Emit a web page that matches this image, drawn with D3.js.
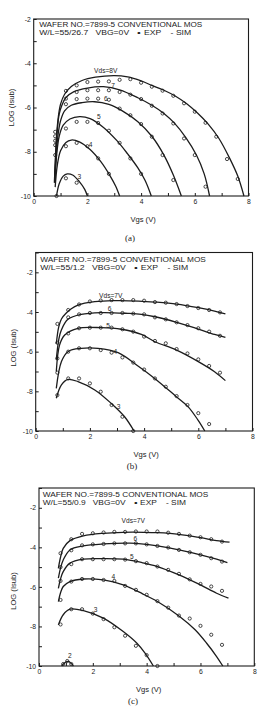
<!DOCTYPE html>
<html>
<head>
<meta charset="utf-8">
<script src="https://cdn.jsdelivr.net/npm/d3@7"></script>
<style>
  body { margin: 0; background: #fff; }
  svg { display: block; opacity: 0.995; }
</style>
</head>
<body>
<script>
// ---- data: [Vgs, log Isub] ----
const xTicks = [0, 2, 4, 6, 8];

// (a) W/L = 55/26.7
const vdsA = [8, 7, 6, 5, 4, 3];
const simA = [
  [[0.77,-9.4],[0.8,-8.5],[0.85,-7.3],[0.92,-6.4],[1.0,-5.85],[1.15,-5.4],[1.4,-5.05],[1.8,-4.78],[2.3,-4.63],[3.0,-4.56],[3.5,-4.62],[4.0,-4.8],[4.4,-5.0],[4.85,-5.22],[5.3,-5.5],[5.7,-5.83],[6.1,-6.25],[6.5,-6.75],[6.9,-7.4],[7.3,-8.3],[7.6,-9.1],[7.83,-10]],
  [[0.78,-9.3],[0.82,-8.2],[0.88,-7.0],[0.95,-6.3],[1.05,-5.9],[1.2,-5.55],[1.5,-5.28],[2.0,-5.12],[2.6,-5.06],[3.2,-5.2],[3.88,-5.56],[4.4,-5.9],[4.85,-6.27],[5.25,-6.72],[5.66,-7.35],[6.06,-8.15],[6.35,-9.0],[6.55,-10]],
  [[0.78,-9.3],[0.83,-8.3],[0.9,-7.3],[1.0,-6.6],[1.15,-6.15],[1.4,-5.9],[1.8,-5.78],[2.27,-5.74],[2.8,-5.86],[3.3,-6.15],[3.88,-6.64],[4.4,-7.3],[4.85,-8.15],[5.2,-9.05],[5.5,-10]],
  [[0.79,-9.4],[0.85,-8.2],[0.95,-7.3],[1.1,-6.8],[1.35,-6.52],[1.71,-6.41],[2.1,-6.5],[2.6,-6.9],[3.1,-7.5],[3.5,-8.1],[3.88,-8.73],[4.15,-9.3],[4.38,-10]],
  [[0.8,-9.6],[0.88,-8.6],[1.0,-7.95],[1.2,-7.58],[1.4,-7.47],[1.7,-7.55],[2.1,-7.9],[2.5,-8.45],[2.85,-9.1],[3.05,-9.55],[3.2,-10]],
  [[0.85,-10],[0.95,-9.45],[1.1,-9.1],[1.25,-9.0],[1.45,-9.05],[1.7,-9.35],[1.9,-9.7],[2.0,-10]]
];
const expA = [
  [[0.8,-7.1],[1.2,-5.25],[1.6,-5.0],[2.0,-4.85],[2.4,-4.83],[2.8,-4.82],[3.2,-4.75],[3.6,-4.72],[4.0,-4.88],[4.4,-5.06],[4.8,-5.24],[5.2,-5.47],[5.6,-5.81],[6.0,-6.19],[6.4,-6.69],[6.8,-7.32],[7.2,-8.33],[7.6,-9.23]],
  [[0.8,-7.3],[1.2,-5.6],[1.6,-5.3],[2.0,-5.22],[2.4,-5.22],[2.8,-5.22],[3.2,-5.3],[3.6,-5.42],[4.0,-5.62],[4.4,-5.92],[4.8,-6.27],[5.2,-6.72],[5.6,-7.4],[6.0,-8.15],[6.4,-9.58]],
  [[0.8,-7.5],[1.2,-5.85],[1.6,-5.62],[2.0,-5.6],[2.4,-5.6],[2.8,-5.65],[3.2,-6.05],[3.6,-6.35],[4.0,-6.75],[4.4,-7.32],[4.8,-8.15],[5.2,-9.28]],
  [[0.8,-7.7],[1.2,-6.95],[1.6,-6.65],[2.0,-6.65],[2.4,-6.7],[2.8,-7.05],[3.2,-7.6],[3.6,-8.3],[4.0,-9.0]],
  [[0.8,-8.15],[1.2,-7.75],[1.6,-7.6],[2.0,-7.75],[2.4,-8.3],[2.8,-9.0]],
  [[0.85,-10],[1.2,-9.2],[1.6,-9.4]]
];

// (b) W/L = 55/1.2
const vdsB = [7, 6, 5, 4, 3];
const simB = [
  [[0.76,-5.6],[0.85,-4.75],[0.95,-4.35],[1.13,-4.05],[1.3,-3.85],[1.56,-3.65],[2.18,-3.48],[2.9,-3.43],[3.8,-3.45],[4.4,-3.5],[5.2,-3.6],[6.0,-3.78],[6.6,-3.95],[7.0,-4.1]],
  [[0.76,-6.4],[0.85,-5.4],[0.95,-4.9],[1.19,-4.37],[1.68,-4.12],[2.42,-4.03],[3.4,-4.07],[3.9,-4.12],[4.4,-4.24],[5.2,-4.52],[6.0,-4.86],[6.6,-5.13],[7.0,-5.28]],
  [[0.76,-7.0],[0.88,-5.67],[1.07,-5.16],[1.56,-4.82],[2.42,-4.79],[3.16,-4.87],[3.9,-5.13],[4.4,-5.5],[5.2,-5.92],[6.0,-6.5],[6.6,-7.01],[7.0,-7.46]],
  [[0.76,-7.85],[0.95,-6.5],[1.19,-6.0],[1.68,-5.83],[2.3,-5.83],[3.04,-6.05],[3.8,-6.75],[4.39,-7.35],[5.19,-8.27],[5.62,-8.77],[5.99,-9.45],[6.24,-10]],
  [[0.76,-8.35],[0.95,-7.68],[1.19,-7.4],[1.56,-7.51],[2.18,-7.93],[2.79,-8.61],[3.28,-9.28],[3.63,-10]]
];
const expB = [
  [[0.8,-4.6],[1.2,-3.9],[1.6,-3.62],[2.0,-3.47],[2.4,-3.42],[2.8,-3.4],[3.2,-3.4],[3.6,-3.4],[4.0,-3.43],[4.4,-3.5],[4.8,-3.53],[5.2,-3.6],[5.6,-3.7],[6.0,-3.8],[6.4,-3.9],[6.8,-4.02]],
  [[0.8,-5.55],[1.2,-4.27],[1.6,-4.12],[2.0,-4.05],[2.4,-4.05],[2.8,-4.05],[3.2,-4.05],[3.6,-4.08],[4.0,-4.12],[4.4,-4.27],[4.8,-4.37],[5.2,-4.52],[5.6,-4.66],[6.0,-4.82],[6.4,-4.99],[6.8,-5.2]],
  [[0.8,-6.34],[1.2,-5.08],[1.6,-4.82],[2.0,-4.79],[2.4,-4.79],[2.8,-4.79],[3.2,-4.87],[3.6,-4.99],[4.0,-5.24],[4.4,-5.46],[4.8,-5.58],[5.2,-5.87],[5.6,-6.09],[6.0,-6.39],[6.4,-6.72],[6.8,-7.06]],
  [[0.8,-7.06],[1.2,-6.0],[1.6,-5.83],[2.0,-5.83],[2.4,-5.92],[2.8,-6.05],[3.2,-6.29],[3.6,-6.55],[4.0,-6.9],[4.4,-7.35],[4.8,-7.77],[5.2,-8.24],[5.6,-8.69],[6.0,-9.1],[6.4,-9.65]],
  [[0.8,-8.19],[1.2,-7.35],[1.6,-7.35],[2.0,-7.6],[2.4,-8.02],[2.8,-8.69],[3.2,-9.28],[3.6,-10]]
];

// (c) W/L = 55/0.9
const vdsC = [7, 6, 5, 4, 3, 2];
const simC = [
  [[0.72,-5.06],[0.8,-4.5],[0.9,-4.05],[1.15,-3.66],[1.65,-3.42],[2.39,-3.29],[3.13,-3.24],[3.9,-3.24],[4.4,-3.26],[5.2,-3.34],[6.0,-3.51],[6.6,-3.66],[7.08,-3.74]],
  [[0.72,-5.56],[0.8,-5.05],[0.9,-4.64],[1.15,-4.13],[1.65,-3.93],[2.39,-3.83],[3.38,-3.79],[3.9,-3.84],[4.4,-3.93],[5.2,-4.13],[6.0,-4.38],[6.6,-4.6],[7.0,-4.77]],
  [[0.72,-6.07],[0.8,-5.6],[0.9,-5.23],[1.15,-4.8],[1.65,-4.6],[2.39,-4.57],[3.13,-4.6],[3.85,-4.78],[4.4,-4.97],[5.2,-5.39],[6.0,-5.9],[6.6,-6.32],[7.04,-6.57]],
  [[0.72,-6.74],[0.8,-6.3],[0.9,-5.98],[1.15,-5.73],[1.65,-5.6],[2.39,-5.65],[3.13,-5.9],[3.85,-6.35],[4.4,-6.74],[5.2,-7.47],[5.8,-8.17],[6.23,-8.85],[6.6,-9.52],[6.83,-10]],
  [[0.72,-7.92],[0.9,-7.41],[1.15,-7.13],[1.65,-7.2],[2.39,-7.58],[3.13,-8.26],[3.63,-8.84],[3.94,-9.35],[4.25,-10]],
  [[0.84,-10],[0.97,-9.82],[1.09,-9.77],[1.21,-9.89],[1.28,-10]]
];
const expC = [
  [[0.8,-4.3],[1.2,-3.59],[1.6,-3.32],[2.0,-3.29],[2.4,-3.25],[2.8,-3.22],[3.2,-3.22],[3.6,-3.2],[4.0,-3.2],[4.4,-3.2],[4.8,-3.26],[5.2,-3.32],[5.6,-3.41],[6.0,-3.49],[6.4,-3.59],[6.8,-3.71]],
  [[0.8,-5.0],[1.2,-4.15],[1.6,-3.9],[2.0,-3.85],[2.4,-3.83],[2.8,-3.8],[3.2,-3.8],[3.6,-3.8],[4.0,-3.85],[4.4,-3.93],[4.8,-4.01],[5.2,-4.13],[5.6,-4.25],[6.0,-4.38],[6.4,-4.55],[6.8,-4.72]],
  [[0.8,-5.7],[1.2,-4.85],[1.6,-4.6],[2.0,-4.6],[2.4,-4.6],[2.8,-4.6],[3.2,-4.62],[3.6,-4.7],[4.0,-4.8],[4.4,-4.97],[4.8,-5.14],[5.2,-5.34],[5.6,-5.62],[6.0,-5.85],[6.4,-5.98],[6.8,-6.2]],
  [[0.8,-6.66],[1.2,-5.73],[1.6,-5.6],[2.0,-5.6],[2.4,-5.65],[2.8,-5.7],[3.2,-5.95],[3.6,-6.15],[4.0,-6.4],[4.4,-6.72],[4.8,-7.05],[5.2,-7.45],[5.6,-7.6],[6.0,-7.97],[6.4,-8.42],[6.8,-8.93]],
  [[0.8,-7.9],[1.2,-7.13],[1.6,-7.13],[2.0,-7.35],[2.4,-7.63],[2.8,-8.04],[3.2,-8.47],[3.6,-8.98],[4.0,-9.45],[4.4,-10]],
  [[0.9,-9.9],[1.05,-9.75],[1.2,-9.9]]
];

const W = 259, H = 712;
const ink = "#1c1c1c";
const sans = "'Liberation Sans', Arial, sans-serif";

const svg = d3.select("body").append("svg")
    .attr("width", W)
    .attr("height", H)
    .attr("font-family", sans)
    .attr("fill", ink);

function panel(o) {
  const x = d3.scaleLinear().domain([0, 8]).range([o.left, o.right]);
  const y = d3.scaleLinear().domain([-10, o.yMax]).range([o.bottom, o.top]);
  const g = svg.append("g");

  // frame
  g.append("rect")
      .attr("x", o.left).attr("y", o.top)
      .attr("width", o.right - o.left).attr("height", o.bottom - o.top)
      .attr("fill", "none").attr("stroke", ink).attr("stroke-width", 1.1);

  const xAxis = g.append("g")
      .attr("transform", `translate(0,${o.bottom})`)
      .call(d3.axisBottom(x).tickValues(d3.range(0, 9)).tickSize(-3).tickPadding(3)
        .tickFormat(d => xTicks.includes(d) ? d : ""));
  const yAxis = g.append("g")
      .attr("transform", `translate(${o.left},0)`)
      .call(d3.axisLeft(y).tickValues(d3.range(-10, o.yMax + 1)).tickSize(-3).tickPadding(3)
        .tickFormat(d => d % 2 ? "" : d));
  [xAxis, yAxis].forEach(a => {
    a.select(".domain").remove();
    a.selectAll("line").attr("stroke", ink);
    a.selectAll("text").attr("font-size", 6.8).attr("fill", ink).attr("font-family", sans);
  });

  // header
  g.append("text").attr("x", o.left + o.hdx).attr("y", o.top + o.hdy)
      .attr("font-size", 6.5).attr("textLength", o.hw1).attr("lengthAdjust", "spacingAndGlyphs")
      .text(o.h1);
  g.append("text").attr("x", o.left + o.hdx).attr("y", o.top + o.hdy + 8)
      .attr("font-size", 6.5).attr("textLength", o.hw2).attr("lengthAdjust", "spacingAndGlyphs")
      .style("white-space", "pre")
      .text(o.h2);

  const line = d3.line()
      .x(d => x(d[0])).y(d => y(d[1]))
      .curve(d3.curveCatmullRom.alpha(0.5));

  g.append("g")
    .selectAll("path")
    .data(o.sim)
    .join("path")
      .attr("d", line)
      .attr("fill", "none")
      .attr("stroke", ink)
      .attr("stroke-width", 1.3);

  g.append("g")
    .selectAll("circle")
    .data(o.exp.flat())
    .join("circle")
      .attr("cx", d => x(d[0]))
      .attr("cy", d => y(d[1]))
      .attr("r", 1.6)
      .attr("fill", "none")
      .attr("stroke", ink)
      .attr("stroke-width", 0.8);

  // Vds labels
  g.append("text")
      .attr("x", x(o.topLabel[0])).attr("y", y(o.topLabel[1]))
      .attr("font-size", 6.6)
      .text(`Vds=${o.vds[0]}V`);
  g.append("g")
    .selectAll("text")
    .data(o.labels)
    .join("text")
      .attr("x", d => x(d[1])).attr("y", d => y(d[2]))
      .attr("dy", "0.35em")
      .attr("text-anchor", "middle")
      .attr("font-size", 6.6)
      .text(d => d[0]);

  // axis titles
  g.append("text")
      .attr("transform", `translate(${o.ylabX},${(o.top + o.bottom) / 2 + o.ylabDy}) rotate(-90)`)
      .attr("text-anchor", "middle")
      .attr("font-size", 7.6)
      .text("LOG (Isub)");
  g.append("text")
      .attr("x", x(4) + 2).attr("y", o.bottom + 26)
      .attr("text-anchor", "middle")
      .attr("font-size", 7.6)
      .text("Vgs (V)");
  g.append("text")
      .attr("x", o.capX).attr("y", o.capY)
      .attr("text-anchor", "middle")
      .attr("font-family", "'Liberation Serif', serif")
      .attr("font-size", 9)
      .text(o.caption);
}

panel({
  left: 33.7, right: 248.5, top: 19, bottom: 196, yMax: -2,
  sim: simA, exp: expA, vds: vdsA,
  h1: "WAFER  NO.=7899-5   CONVENTIONAL  MOS",
  h2: "W/L=55/26.7   VBG=0V   \u2218 EXP    - SIM",
  hdx: 5.5, hdy: 8, hw1: 163, hw2: 152,
  topLabel: [2.25, -4.44],
  labels: [["7", 2.96, -5.03], ["6", 2.69, -5.6], ["5", 2.43, -6.42], ["4", 2.12, -7.66], ["3", 1.7, -9.13]],
  ylabX: 14, ylabDy: 0, capX: 130, capY: 241, caption: "(a)"
});

panel({
  left: 35.7, right: 252.5, top: 252.5, bottom: 431, yMax: -1,
  sim: simB, exp: expB, vds: vdsB,
  h1: "WAFER  NO.=7899-5   CONVENTIONAL  MOS",
  h2: "W/L=55/1.2   VBG=0V   \u2218 EXP    - SIM",
  hdx: 4.5, hdy: 9, hw1: 165.7, hw2: 148,
  topLabel: [2.34, -3.29],
  labels: [["6", 2.73, -3.82], ["5", 2.67, -4.71], ["4", 2.94, -6.0], ["3", 3.06, -8.78]],
  ylabX: 16, ylabDy: 6, capX: 132, capY: 469, caption: "(b)"
});

panel({
  left: 39, right: 254.3, top: 488, bottom: 666, yMax: -1,
  sim: simC, exp: expC, vds: vdsC,
  h1: "WAFER  NO.=7899-5   CONVENTIONAL  MOS",
  h2: "W/L=55/0.9   VBG=0V   \u2218 EXP    - SIM",
  hdx: 3.7, hdy: 8.5, hw1: 165.6, hw2: 143.3,
  topLabel: [3.07, -2.77],
  labels: [["6", 3.58, -3.55], ["5", 3.45, -4.45], ["4", 2.76, -5.5], ["3", 2.1, -7.15], ["2", 1.15, -9.5]],
  ylabX: 16, ylabDy: 14, capX: 133, capY: 704, caption: "(c)"
});
</script>
</body>
</html>
